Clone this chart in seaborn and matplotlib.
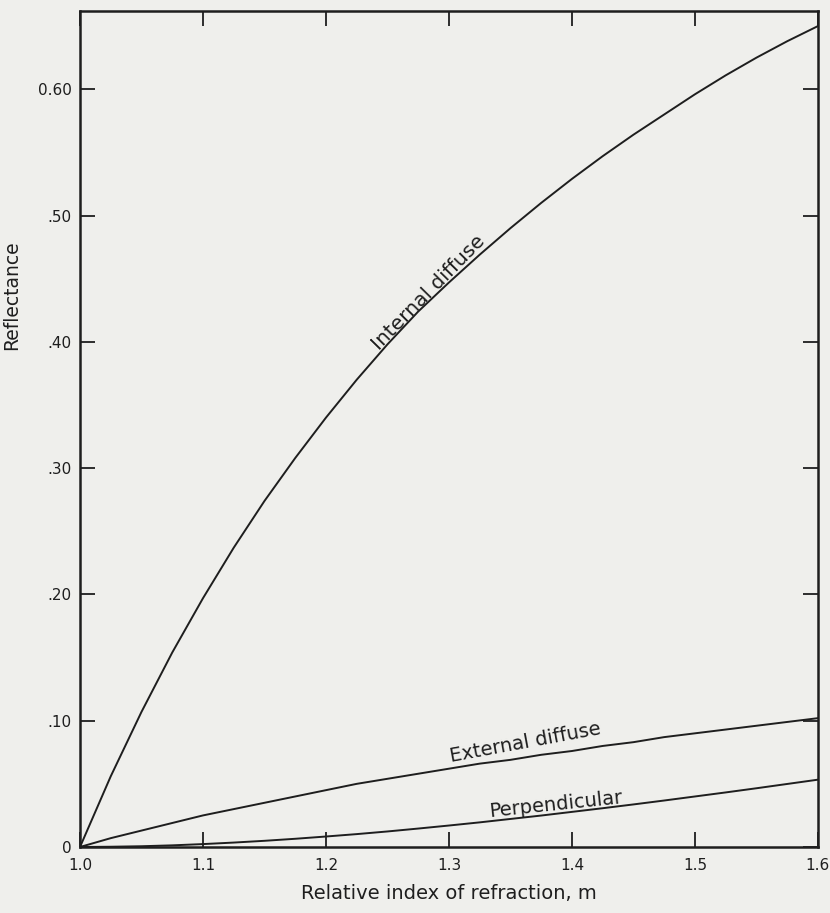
import numpy as np
import pandas as pd
import matplotlib
matplotlib.use("Agg")
import matplotlib.pyplot as plt
import seaborn as sns

# Values
m_values = [1.000, 1.025, 1.050, 1.075, 1.100, 1.125, 1.150, 1.175, 1.200,
            1.225, 1.250, 1.275, 1.300, 1.325, 1.350, 1.375, 1.400, 1.425,
            1.450, 1.475, 1.500, 1.525, 1.550, 1.575, 1.600]
internal_diffuse = [0.000, 0.056, 0.107, 0.154, 0.197, 0.237, 0.274, 0.308, 0.340,
                    0.370, 0.398, 0.424, 0.447, 0.469, 0.490, 0.510, 0.529, 0.547,
                    0.564, 0.580, 0.596, 0.611, 0.625, 0.638, 0.650]
external_diffuse = [0.000, 0.007, 0.013, 0.019, 0.025, 0.030, 0.035, 0.040, 0.045,
                    0.050, 0.054, 0.058, 0.062, 0.066, 0.069, 0.073, 0.076, 0.080,
                    0.083, 0.087, 0.090, 0.093, 0.096, 0.099, 0.102]
perpendicular = [0.0000, 0.0002, 0.0006, 0.0013, 0.0023, 0.0035, 0.0049, 0.0065, 0.0083,
                 0.0102, 0.0123, 0.0146, 0.0170, 0.0195, 0.0222, 0.0249, 0.0278, 0.0307,
                 0.0337, 0.0368, 0.0400, 0.0432, 0.0465, 0.0499, 0.0533]

x_ticks = [1.0, 1.1, 1.2, 1.3, 1.4, 1.5, 1.6]
x_tick_labels = ["1.0", "1.1", "1.2", "1.3", "1.4", "1.5", "1.6"]
y_ticks = [0.0, 0.1, 0.2, 0.3, 0.4, 0.5, 0.6]
y_tick_labels = ["0", ".10", ".20", ".30", ".40", ".50", "0.60"]

df = pd.DataFrame({
    "m": m_values * 3,
    "R": internal_diffuse + external_diffuse + perpendicular,
    "curve": (["Internal diffuse"] * len(m_values)
              + ["External diffuse"] * len(m_values)
              + ["Perpendicular"] * len(m_values)),
})

sns.set_theme(style="ticks")
plt.rcParams["font.family"] = ["DejaVu Sans"]
ink = "#1e1e1e"
paper = "#efefec"

fig = plt.figure(figsize=(8.30, 9.13), dpi=100, facecolor=paper)
ax = fig.add_axes([0.0964, 0.0723, 0.889, 0.9157])
ax.set_facecolor(paper)

sns.lineplot(data=df, x="m", y="R", hue="curve",
             palette={"Internal diffuse": ink, "External diffuse": ink, "Perpendicular": ink},
             linewidth=1.4, legend=False, ax=ax)

ax.set_xlim(1.0, 1.6)
ax.set_ylim(0, 0.662)
ax.set_xticks(x_ticks)
ax.set_xticklabels(x_tick_labels)
ax.set_yticks(y_ticks)
ax.set_yticklabels(y_tick_labels)
ax.tick_params(direction="in", length=11, width=1.3, colors=ink,
               labelsize=11, top=True, right=True, pad=6)
ax.tick_params(axis="x", pad=8)
for sp in ax.spines.values():
    sp.set_linewidth(1.8)
    sp.set_color(ink)

ax.set_xlabel("Relative index of refraction, m", fontsize=14, color=ink, labelpad=8)
ax.set_ylabel("Reflectance", fontsize=13.5, color=ink)
ax.yaxis.set_label_coords(-0.08, 0.66)

# curve labels
ax.text(1.243, 0.393, "Internal diffuse", rotation=45.5, rotation_mode="anchor",
        ha="left", va="baseline", fontsize=14.5, color=ink)
ax.text(1.302, 0.067, "External diffuse", rotation=10.5, rotation_mode="anchor",
        ha="left", va="baseline", fontsize=14, color=ink)
ax.text(1.333, 0.024, "Perpendicular", rotation=6, rotation_mode="anchor",
        ha="left", va="baseline", fontsize=14, color=ink)

fig.savefig("out.png", dpi=100, facecolor=paper)
